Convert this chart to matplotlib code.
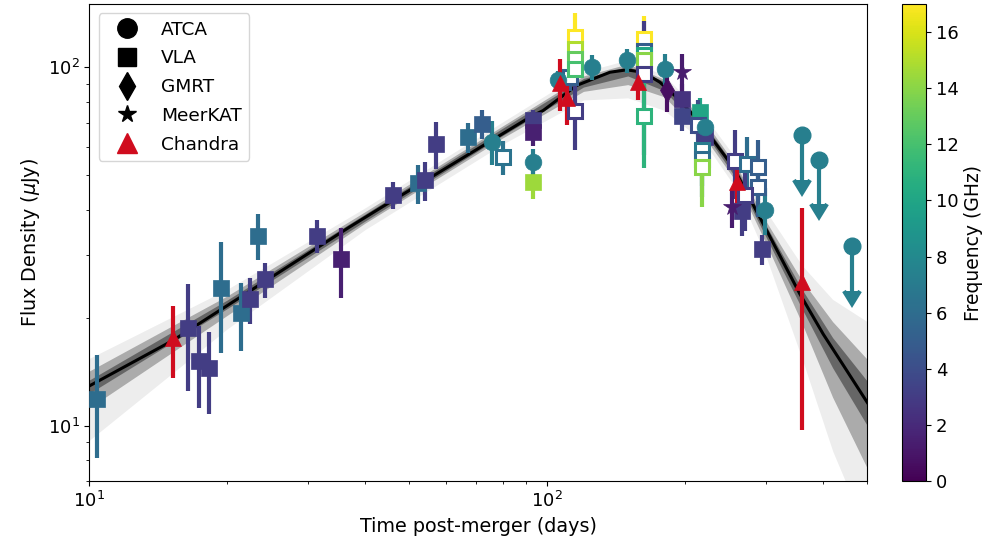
import matplotlib
matplotlib.use("Agg")
import matplotlib.pyplot as plt
import matplotlib.colors as mcolors
from matplotlib.cm import ScalarMappable
from matplotlib.lines import Line2D

# model: median light curve and spread of posterior samples
model_t = [10, 15.25, 37.0, 43.0, 91.6, 98.0, 115.9, 137.1, 149.1, 162.0, 176.2, 191.6, 215.5, 254.8, 291.3, 356.2, 400.6, 450, 500]
model_f = [12.9, 17.3, 35.8, 40.3, 72.5, 75.7, 88.9, 96.8, 98.3, 96.8, 90.8, 82.5, 70.2, 52.6, 38.1, 23.3, 18.0, 14.3, 11.6]

band_t = [10, 20, 40, 80, 120, 150, 180, 220, 260, 300, 360, 420, 500]
outer_hi = [15.4, 24.0, 40.5, 70.4, 97.0, 104.8, 94.9, 73.4, 55.0, 39.8, 28.0, 22.5, 19.5]
outer_lo = [9.1, 18.6, 35.2, 61.0, 81.0, 82.1, 75.8, 61.8, 45.4, 29.8, 15.4, 8.5, 5.0]
mid_hi = [14.2, 23.0, 39.5, 68.6, 94.5, 102.1, 92.5, 71.0, 52.6, 37.3, 25.4, 19.5, 15.3]
mid_lo = [11.2, 20.3, 36.7, 63.5, 85.6, 89.4, 82.7, 64.0, 47.5, 32.4, 19.3, 12.0, 7.6]
inner_hi = [13.4, 22.4, 38.9, 67.6, 93.0, 100.5, 91.3, 69.6, 51.6, 36.3, 24.0, 17.6, 13.3]
inner_lo = [12.3, 21.2, 37.2, 64.5, 88.0, 94.5, 86.0, 66.0, 48.4, 33.7, 21.2, 14.5, 10.0]

# ATCA detections
atca_t = [75.6, 93.2, 105.7, 125.0, 149.1, 180.7, 221.0, 298.8]
atca_f = [62.0, 54.3, 91.8, 100.0, 104.4, 99.0, 68.0, 40.0]
atca_err = [8.7, 5, 6, 8, 8, 10, 8, 6]
atca_nu = [7.25, 7.25, 7.25, 7.25, 7.25, 7.25, 7.25, 7.25]

# ATCA upper limits
atca_ul_t = [359.4, 392.6, 461.9]
atca_ul_f = [64.5, 55.1, 31.8]
atca_ul_len = [16, 13.5, 8]
atca_ul_nu = [7.25, 7.25, 7.25]

# VLA filled
vla_t = [10.38, 16.4, 17.36, 18.3, 19.4, 21.4, 22.4, 23.4, 24.2, 31.4, 35.4, 46.1, 52.2, 54.1, 57.1,
         67.2, 72.1, 93.2, 93.2, 93.2, 197.2, 197.2, 215.5, 221.0, 265.8, 293.9]
vla_f = [11.9, 18.7, 15.1, 14.5, 24.2, 20.6, 22.5, 33.9, 25.6, 33.9, 29.2, 44.0, 47.4, 48.3, 61.1,
         63.8, 69.5, 71.0, 66.1, 47.8, 81.6, 73.3, 74.9, 63.8, 39.8, 31.1]
vla_err = [3.8, 6.2, 3.9, 3.7, 8.3, 4.4, 3.3, 5.0, 2.9, 3.5, 6.5, 3.8, 6, 6, 9,
           6, 6.3, 5, 6, 5, 8, 7, 7, 6, 6, 3]
vla_nu = [6, 3, 3, 3, 6, 6, 3, 6, 3, 3, 1.5, 3, 6, 3, 3,
          6, 5, 3, 1.5, 14.5, 2.5, 3.5, 10, 3, 3, 3]

# VLA open
vlao_t = [80.1, 112.1, 115.0, 115.0, 115.0, 115.0, 115.0, 162.8, 162.8, 162.8, 162.8, 162.8, 162.8,
          213.3, 217.3, 217.3, 217.3, 257.0, 272.5, 288.9, 288.9, 270.2]
vlao_f = [56.1, 93.8, 121.3, 112.5, 105.5, 99.0, 75.7, 120.0, 111.3, 107.8, 104.4, 95.8, 73.3,
          68.8, 58.6, 55.5, 52.6, 54.9, 53.8, 52.6, 46.3, 43.9]
vlao_err = [6, 8, 20, 10, 10, 10, 17, 19, 10, 10, 10, 39, 21,
            12, 12, 12, 12, 12, 10, 10, 8, 9]
vlao_nu = [6.5, 5, 17, 15, 13, 12, 3, 17, 5, 10, 14, 3, 11,
           4, 7, 6, 14, 3, 6, 5, 5, 3]

# GMRT
gmrt_t = [182.3]
gmrt_f = [86.2]
gmrt_err = [11]
gmrt_nu = [0.65]

# MeerKAT
mkat_t = [196.6, 252.7]
mkat_f = [96.8, 40.7]
mkat_err = [12, 5]
mkat_nu = [1.3, 1.3]

# Chandra (scaled to radio)
cxo_t = [15.2, 106.6, 110.4, 158.0, 260.0, 359.4]
cxo_f = [17.6, 90.6, 81.8, 90.8, 47.8, 25.1]
cxo_err = [4, 15, 13, 10, 10, 15.4]

CXO_COLOR = "#d00c1e"

if __name__ == "__main__":
    cmap = plt.get_cmap("viridis")
    norm = mcolors.Normalize(vmin=0, vmax=17)

    fig = plt.figure(figsize=(10.03, 5.40), dpi=100)
    ax = fig.add_axes([0.089, 0.109, 0.7757, 0.8835])
    cax = fig.add_axes([0.8993, 0.109, 0.0239, 0.8835])

    # model spread
    ax.fill_between(band_t, outer_lo, outer_hi, color="k", alpha=0.07, lw=0, zorder=1)
    ax.fill_between(band_t, mid_lo, mid_hi, color="k", alpha=0.28, lw=0, zorder=1)
    ax.fill_between(band_t, inner_lo, inner_hi, color="k", alpha=0.4, lw=0, zorder=1)
    ax.plot(model_t, model_f, color="k", lw=2.2, zorder=2)

    def point(t, f, e, nu, marker, ms, open_=False, color=None):
        c = color if color is not None else cmap(norm(nu))
        ax.errorbar(
            t, f, yerr=e, fmt=marker, color=c, ms=ms,
            mfc="white" if open_ else c, mec=c, mew=2.2 if open_ else 0.5,
            elinewidth=3, capsize=0, zorder=3,
        )

    for t, f, e, nu in zip(vla_t, vla_f, vla_err, vla_nu):
        point(t, f, e, nu, "s", 11)
    for t, f, e, nu in zip(vlao_t, vlao_f, vlao_err, vlao_nu):
        point(t, f, e, nu, "s", 10, open_=True)
    for t, f, e, nu in zip(atca_t, atca_f, atca_err, atca_nu):
        point(t, f, e, nu, "o", 12)
    for t, f, e, nu in zip(gmrt_t, gmrt_f, gmrt_err, gmrt_nu):
        point(t, f, e, nu, "d", 12)
    for t, f, e, nu in zip(mkat_t, mkat_f, mkat_err, mkat_nu):
        point(t, f, e, nu, "*", 13)
    for t, f, e in zip(cxo_t, cxo_f, cxo_err):
        point(t, f, e, 0, "^", 12, color=CXO_COLOR)

    # upper limits
    for t, f, e, nu in zip(atca_ul_t, atca_ul_f, atca_ul_len, atca_ul_nu):
        c = cmap(norm(nu))
        ax.errorbar(t, f, yerr=e, uplims=True, fmt="o", color=c, ms=12,
                    mec=c, elinewidth=3, capsize=6, capthick=3, zorder=3)

    ax.set_xscale("log")
    ax.set_yscale("log")
    ax.set_xlim(10, 500)
    ax.set_ylim(7, 150)
    ax.set_xlabel("Time post-merger (days)", fontsize=13.8)
    ax.set_ylabel(r"Flux Density ($\mu$Jy)", fontsize=13.8)
    ax.tick_params(labelsize=13)

    handles = [
        Line2D([], [], marker="o", color="k", ls="none", ms=14, label="ATCA"),
        Line2D([], [], marker="s", color="k", ls="none", ms=13, label="VLA"),
        Line2D([], [], marker="d", color="k", ls="none", ms=14, label="GMRT"),
        Line2D([], [], marker="*", color="k", ls="none", ms=13, label="MeerKAT"),
        Line2D([], [], marker="^", color=CXO_COLOR, ls="none", ms=14, label="Chandra"),
    ]
    ax.legend(handles=handles, loc="upper left", fontsize=13.3,
              handlelength=2.3, handletextpad=0.7, labelspacing=0.58)

    sm = ScalarMappable(norm=norm, cmap=cmap)
    cb = fig.colorbar(sm, cax=cax)
    cb.set_ticks(range(0, 17, 2))
    cb.ax.tick_params(labelsize=13)
    cb.set_label("Frequency (GHz)", fontsize=13.5)

    fig.savefig("out.png", dpi=100)
    plt.close(fig)
